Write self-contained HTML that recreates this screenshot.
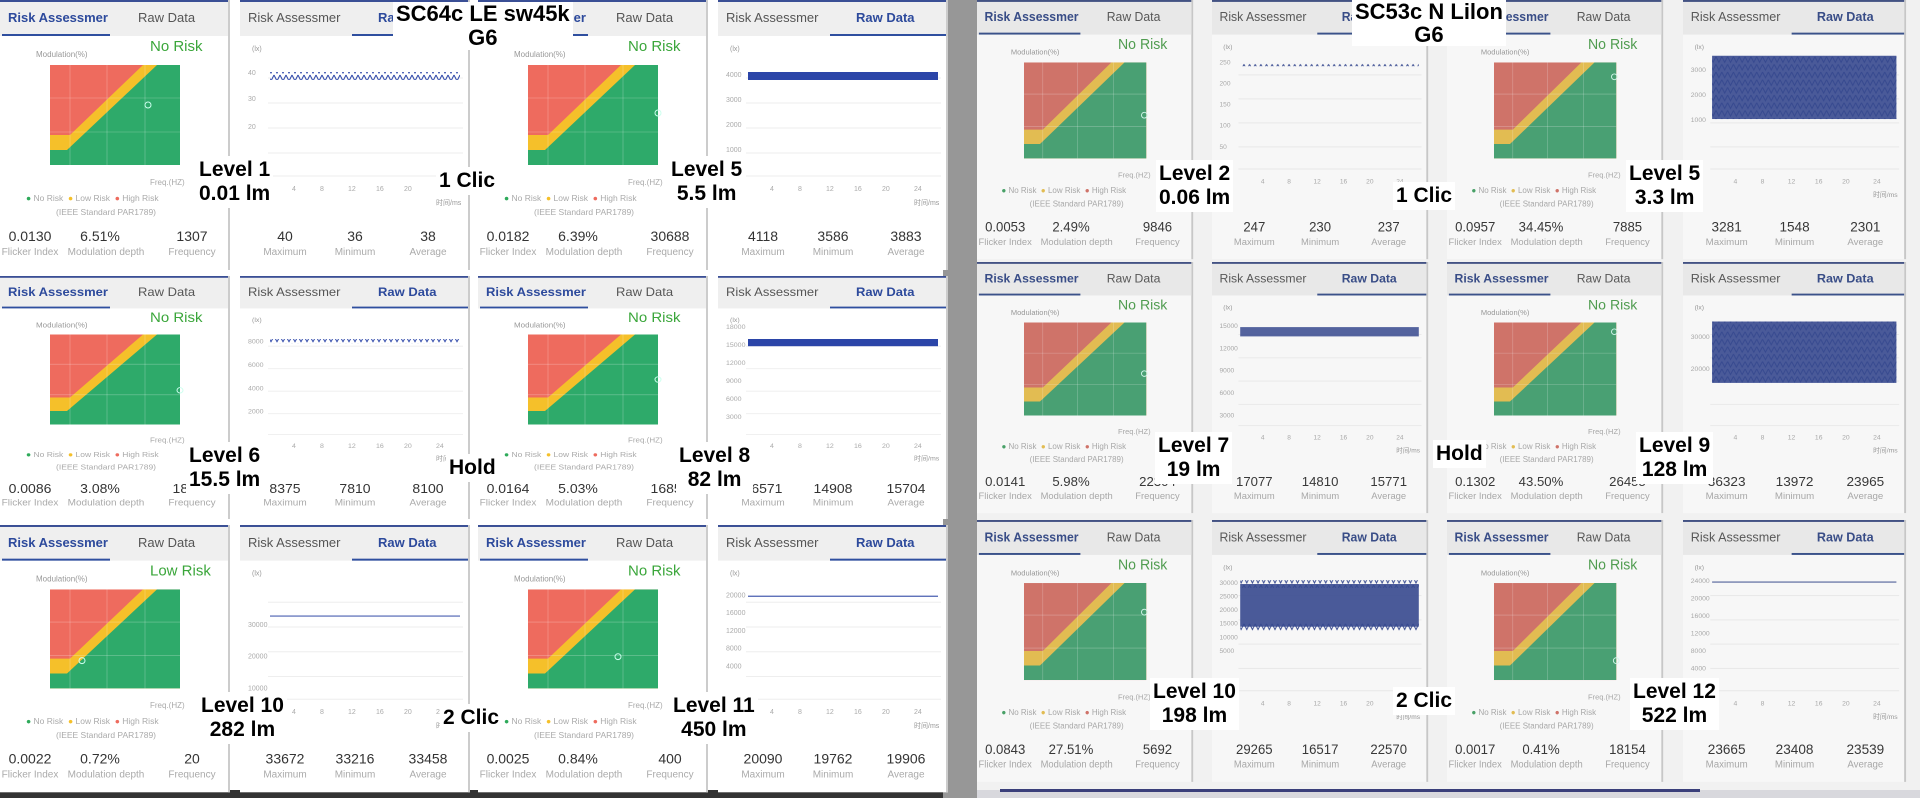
<!DOCTYPE html>
<html><head><meta charset="utf-8">
<style>
*{margin:0;padding:0;box-sizing:border-box}
body{width:1920px;height:798px;overflow:hidden;background:#fff;position:relative;font-family:"Liberation Sans","Noto Sans CJK SC",sans-serif}
.c{position:absolute;width:230px;height:270px;background:#fff;transform-origin:0 0;border-right:2px solid #ccc;overflow:hidden}
.c div,.c span,.c svg{position:absolute}
.tb{left:0;top:0;width:230px;height:36px;background:#efefef;border-top:2px solid #3a4f95}
.t1{left:8px;top:10px;font-size:13px;white-space:nowrap}
.t2{left:138px;top:10px;font-size:13px;white-space:nowrap}
.on{color:#2d4a9c;font-weight:bold}
.off{color:#555}
.ul{top:34px;height:2px;background:#2f4f9f}
.nr{left:150px;top:38px;font-size:15px;color:#3aa63a}
.ml{left:36px;top:50px;font-size:8px;color:#999}
.fq{left:150px;top:178px;font-size:8px;color:#aaa}
.lg{left:26px;top:193px;font-size:8.5px;color:#aaa;white-space:nowrap}
.ie{left:56px;top:207px;font-size:8.5px;color:#aaa;white-space:nowrap}
.v{top:228px;font-size:14px;color:#333;width:80px;text-align:center}
.l{top:247px;font-size:10px;color:#aaa;width:80px;text-align:center;white-space:nowrap}
.lx{left:12px;top:46px;font-size:7px;color:#999}
.yt{left:8px;font-size:7px;color:#aaa}
.xt{top:186px;font-size:7px;color:#aaa}
.tm{left:196px;top:198px;font-size:7px;color:#999}
.ov{position:absolute;background:#fff;font-weight:bold;font-size:21px;line-height:24px;text-align:center;color:#000;white-space:nowrap;padding:2px 3px}
.g{color:#2eaa5a}.y{color:#f5c02a}.r{color:#ee6b5e}
</style></head><body>
<svg width="0" height="0" style="position:absolute"><defs>
<pattern id="zz" width="6" height="8" patternUnits="userSpaceOnUse"><path d="M0,1 L3,7 L6,1" fill="none" stroke="#2b45a8" stroke-width="1"/></pattern>
<g id="rc"><rect width="130" height="100" fill="#ee6b5e"/><polygon points="0,70 20,70 93,0 130,0 130,100 0,100" fill="#f5c02a"/><polygon points="0,85 17,85 107,0 130,0 130,100 0,100" fill="#2eaa6a"/><g stroke="#fff" stroke-opacity=".35" stroke-width=".6"><line x1="20" y1="0" x2="20" y2="100"/><line x1="57" y1="0" x2="57" y2="100"/><line x1="95" y1="0" x2="95" y2="100"/><line x1="0" y1="33" x2="130" y2="33"/><line x1="0" y1="67" x2="130" y2="67"/></g></g>
<g id="gr" stroke="#eee" stroke-width="1"><line x1="0" y1="20" x2="195" y2="20"/><line x1="0" y1="45" x2="195" y2="45"/><line x1="0" y1="70" x2="195" y2="70"/><line x1="0" y1="95" x2="195" y2="95"/><line x1="0" y1="118" x2="195" y2="118"/></g>
</defs></svg>

<div style="position:absolute;left:943px;top:0;width:34px;height:798px;background:#979797"></div>
<div style="position:absolute;left:977px;top:0;width:943px;height:798px;background:#f1f1f1"></div>
<div style="position:absolute;left:0;top:790px;width:943px;height:8px;background:#333"></div>
<div style="position:absolute;left:977px;top:790px;width:943px;height:8px;background:#d8d8dd"></div>
<div style="position:absolute;left:1000px;top:789px;width:700px;height:3px;background:#3a3f7a"></div>

<!-- R1C1 -->
<div class="c" style="left:0;top:0">
<div class="tb"></div><span class="t1 on">Risk Assessmer</span><span class="t2 off">Raw Data</span><div class="ul" style="left:2px;width:108px"></div>
<span class="nr">No Risk</span><span class="ml">Modulation(%)</span>
<svg style="left:50px;top:65px" width="132" height="102"><use href="#rc"/><circle cx="98" cy="40" r="3" fill="none" stroke="#cfe" stroke-width="1"/></svg>
<span class="fq">Freq.(HZ)</span><span class="lg"><b class="g">●</b> No Risk &nbsp;<b class="y">●</b> Low Risk &nbsp;<b class="r">●</b> High Risk</span><span class="ie">(IEEE Standard PAR1789)</span>
<span class="v" style="left:-10px">0.0130</span><span class="v" style="left:60px">6.51%</span><span class="v" style="left:152px">1307</span>
<span class="l" style="left:-10px">Flicker Index</span><span class="l" style="left:66px">Modulation depth</span><span class="l" style="left:152px">Frequency</span>
</div>
<!-- R1C2 -->
<div class="c" style="left:240px;top:0">
<div class="tb"></div><span class="t1 off">Risk Assessmer</span><span class="t2 on">Raw Data</span><div class="ul" style="left:112px;width:118px"></div>
<span class="lx">(lx)</span><span class="yt" style="top:70px">40</span><span class="yt" style="top:96px">30</span><span class="yt" style="top:124px">20</span>
<svg style="left:28px;top:58px" width="195" height="125"><use href="#gr"/><rect x="2" y="14" width="190" height="8" fill="url(#zz)"/></svg>
<span class="xt" style="left:52px">4</span><span class="xt" style="left:80px">8</span><span class="xt" style="left:108px">12</span><span class="xt" style="left:136px">16</span><span class="xt" style="left:164px">20</span><span class="xt" style="left:196px">24</span><span class="tm">时间/ms</span>
<span class="v" style="left:5px">40</span><span class="v" style="left:75px">36</span><span class="v" style="left:148px">38</span>
<span class="l" style="left:5px">Maximum</span><span class="l" style="left:75px">Minimum</span><span class="l" style="left:148px">Average</span>
</div>
<!-- R1C3 -->
<div class="c" style="left:478px;top:0">
<div class="tb"></div><span class="t1 on">Risk Assessmer</span><span class="t2 off">Raw Data</span><div class="ul" style="left:2px;width:108px"></div>
<span class="nr">No Risk</span><span class="ml">Modulation(%)</span>
<svg style="left:50px;top:65px" width="134" height="102"><use href="#rc"/><circle cx="130" cy="48" r="3" fill="none" stroke="#cfe" stroke-width="1"/></svg>
<span class="fq">Freq.(HZ)</span><span class="lg"><b class="g">●</b> No Risk &nbsp;<b class="y">●</b> Low Risk &nbsp;<b class="r">●</b> High Risk</span><span class="ie">(IEEE Standard PAR1789)</span>
<span class="v" style="left:-10px">0.0182</span><span class="v" style="left:60px">6.39%</span><span class="v" style="left:152px">30688</span>
<span class="l" style="left:-10px">Flicker Index</span><span class="l" style="left:66px">Modulation depth</span><span class="l" style="left:152px">Frequency</span>
</div>
<!-- R1C4 -->
<div class="c" style="left:718px;top:0">
<div class="tb"></div><span class="t1 off">Risk Assessmer</span><span class="t2 on">Raw Data</span><div class="ul" style="left:112px;width:118px"></div>
<span class="lx">(lx)</span><span class="yt" style="top:72px">4000</span><span class="yt" style="top:97px">3000</span><span class="yt" style="top:122px">2000</span><span class="yt" style="top:147px">1000</span>
<svg style="left:28px;top:58px" width="195" height="125"><use href="#gr"/><rect x="2" y="14" width="190" height="8" fill="#2b45a8"/></svg>
<span class="xt" style="left:52px">4</span><span class="xt" style="left:80px">8</span><span class="xt" style="left:108px">12</span><span class="xt" style="left:136px">16</span><span class="xt" style="left:164px">20</span><span class="xt" style="left:196px">24</span><span class="tm">时间/ms</span>
<span class="v" style="left:5px">4118</span><span class="v" style="left:75px">3586</span><span class="v" style="left:148px">3883</span>
<span class="l" style="left:5px">Maximum</span><span class="l" style="left:75px">Minimum</span><span class="l" style="left:148px">Average</span>
</div>

<!-- R2C1 -->
<div class="c" style="left:0;top:276px;transform:scaleY(.9)">
<div class="tb"></div><span class="t1 on">Risk Assessmer</span><span class="t2 off">Raw Data</span><div class="ul" style="left:2px;width:108px"></div>
<span class="nr">No Risk</span><span class="ml">Modulation(%)</span>
<svg style="left:50px;top:65px" width="134" height="102"><use href="#rc"/><circle cx="130" cy="62" r="3" fill="none" stroke="#cfe" stroke-width="1"/></svg>
<span class="fq">Freq.(HZ)</span><span class="lg"><b class="g">●</b> No Risk &nbsp;<b class="y">●</b> Low Risk &nbsp;<b class="r">●</b> High Risk</span><span class="ie">(IEEE Standard PAR1789)</span>
<span class="v" style="left:-10px">0.0086</span><span class="v" style="left:60px">3.08%</span><span class="v" style="left:152px">18154</span>
<span class="l" style="left:-10px">Flicker Index</span><span class="l" style="left:66px">Modulation depth</span><span class="l" style="left:152px">Frequency</span>
</div>
<!-- R2C2 -->
<div class="c" style="left:240px;top:276px;transform:scaleY(.9)">
<div class="tb"></div><span class="t1 off">Risk Assessmer</span><span class="t2 on">Raw Data</span><div class="ul" style="left:112px;width:118px"></div>
<span class="lx">(lx)</span><span class="yt" style="top:70px">8000</span><span class="yt" style="top:96px">6000</span><span class="yt" style="top:122px">4000</span><span class="yt" style="top:148px">2000</span>
<svg style="left:28px;top:58px" width="195" height="125"><use href="#gr"/><rect x="2" y="12" width="190" height="5" fill="url(#zz)"/></svg>
<span class="xt" style="left:52px">4</span><span class="xt" style="left:80px">8</span><span class="xt" style="left:108px">12</span><span class="xt" style="left:136px">16</span><span class="xt" style="left:164px">20</span><span class="xt" style="left:196px">24</span><span class="tm">时间/ms</span>
<span class="v" style="left:5px">8375</span><span class="v" style="left:75px">7810</span><span class="v" style="left:148px">8100</span>
<span class="l" style="left:5px">Maximum</span><span class="l" style="left:75px">Minimum</span><span class="l" style="left:148px">Average</span>
</div>
<!-- R2C3 -->
<div class="c" style="left:478px;top:276px;transform:scaleY(.9)">
<div class="tb"></div><span class="t1 on">Risk Assessmer</span><span class="t2 off">Raw Data</span><div class="ul" style="left:2px;width:108px"></div>
<span class="nr">No Risk</span><span class="ml">Modulation(%)</span>
<svg style="left:50px;top:65px" width="134" height="102"><use href="#rc"/><circle cx="130" cy="50" r="3" fill="none" stroke="#cfe" stroke-width="1"/></svg>
<span class="fq">Freq.(HZ)</span><span class="lg"><b class="g">●</b> No Risk &nbsp;<b class="y">●</b> Low Risk &nbsp;<b class="r">●</b> High Risk</span><span class="ie">(IEEE Standard PAR1789)</span>
<span class="v" style="left:-10px">0.0164</span><span class="v" style="left:60px">5.03%</span><span class="v" style="left:152px">16850</span>
<span class="l" style="left:-10px">Flicker Index</span><span class="l" style="left:66px">Modulation depth</span><span class="l" style="left:152px">Frequency</span>
</div>
<!-- R2C4 -->
<div class="c" style="left:718px;top:276px;transform:scaleY(.9)">
<div class="tb"></div><span class="t1 off">Risk Assessmer</span><span class="t2 on">Raw Data</span><div class="ul" style="left:112px;width:118px"></div>
<span class="lx">(lx)</span><span class="yt" style="top:54px">18000</span><span class="yt" style="top:74px">15000</span><span class="yt" style="top:94px">12000</span><span class="yt" style="top:114px">9000</span><span class="yt" style="top:134px">6000</span><span class="yt" style="top:154px">3000</span>
<svg style="left:28px;top:58px" width="195" height="125"><use href="#gr"/><rect x="2" y="12" width="190" height="8" fill="#2b45a8"/></svg>
<span class="xt" style="left:52px">4</span><span class="xt" style="left:80px">8</span><span class="xt" style="left:108px">12</span><span class="xt" style="left:136px">16</span><span class="xt" style="left:164px">20</span><span class="xt" style="left:196px">24</span><span class="tm">时间/ms</span>
<span class="v" style="left:5px">16571</span><span class="v" style="left:75px">14908</span><span class="v" style="left:148px">15704</span>
<span class="l" style="left:5px">Maximum</span><span class="l" style="left:75px">Minimum</span><span class="l" style="left:148px">Average</span>
</div>

<!-- R3C1 -->
<div class="c" style="left:0;top:525px;transform:scaleY(.99)">
<div class="tb"></div><span class="t1 on">Risk Assessmer</span><span class="t2 off">Raw Data</span><div class="ul" style="left:2px;width:108px"></div>
<span class="nr">Low Risk</span><span class="ml">Modulation(%)</span>
<svg style="left:50px;top:65px" width="134" height="102"><use href="#rc"/><circle cx="32" cy="72" r="3" fill="none" stroke="#cfe" stroke-width="1"/></svg>
<span class="fq">Freq.(HZ)</span><span class="lg"><b class="g">●</b> No Risk &nbsp;<b class="y">●</b> Low Risk &nbsp;<b class="r">●</b> High Risk</span><span class="ie">(IEEE Standard PAR1789)</span>
<span class="v" style="left:-10px">0.0022</span><span class="v" style="left:60px">0.72%</span><span class="v" style="left:152px">20</span>
<span class="l" style="left:-10px">Flicker Index</span><span class="l" style="left:66px">Modulation depth</span><span class="l" style="left:152px">Frequency</span>
</div>
<!-- R3C2 -->
<div class="c" style="left:240px;top:525px;transform:scaleY(.99)">
<div class="tb"></div><span class="t1 off">Risk Assessmer</span><span class="t2 on">Raw Data</span><div class="ul" style="left:112px;width:118px"></div>
<span class="lx">(lx)</span><span class="yt" style="top:98px">30000</span><span class="yt" style="top:130px">20000</span><span class="yt" style="top:162px">10000</span>
<svg style="left:28px;top:58px" width="195" height="125"><use href="#gr"/><line x1="2" y1="34" x2="192" y2="34" stroke="#4a5fb0" stroke-width="1.2"/></svg>
<span class="xt" style="left:52px">4</span><span class="xt" style="left:80px">8</span><span class="xt" style="left:108px">12</span><span class="xt" style="left:136px">16</span><span class="xt" style="left:164px">20</span><span class="xt" style="left:196px">24</span><span class="tm">时间/ms</span>
<span class="v" style="left:5px">33672</span><span class="v" style="left:75px">33216</span><span class="v" style="left:148px">33458</span>
<span class="l" style="left:5px">Maximum</span><span class="l" style="left:75px">Minimum</span><span class="l" style="left:148px">Average</span>
</div>
<!-- R3C3 -->
<div class="c" style="left:478px;top:525px;transform:scaleY(.99)">
<div class="tb"></div><span class="t1 on">Risk Assessmer</span><span class="t2 off">Raw Data</span><div class="ul" style="left:2px;width:108px"></div>
<span class="nr">No Risk</span><span class="ml">Modulation(%)</span>
<svg style="left:50px;top:65px" width="134" height="102"><use href="#rc"/><circle cx="90" cy="68" r="3" fill="none" stroke="#cfe" stroke-width="1"/></svg>
<span class="fq">Freq.(HZ)</span><span class="lg"><b class="g">●</b> No Risk &nbsp;<b class="y">●</b> Low Risk &nbsp;<b class="r">●</b> High Risk</span><span class="ie">(IEEE Standard PAR1789)</span>
<span class="v" style="left:-10px">0.0025</span><span class="v" style="left:60px">0.84%</span><span class="v" style="left:152px">400</span>
<span class="l" style="left:-10px">Flicker Index</span><span class="l" style="left:66px">Modulation depth</span><span class="l" style="left:152px">Frequency</span>
</div>
<!-- R3C4 -->
<div class="c" style="left:718px;top:525px;transform:scaleY(.99)">
<div class="tb"></div><span class="t1 off">Risk Assessmer</span><span class="t2 on">Raw Data</span><div class="ul" style="left:112px;width:118px"></div>
<span class="lx">(lx)</span><span class="yt" style="top:68px">20000</span><span class="yt" style="top:86px">16000</span><span class="yt" style="top:104px">12000</span><span class="yt" style="top:122px">8000</span><span class="yt" style="top:140px">4000</span>
<svg style="left:28px;top:58px" width="195" height="125"><use href="#gr"/><line x1="2" y1="14" x2="192" y2="14" stroke="#4a5fb0" stroke-width="1.2"/></svg>
<span class="xt" style="left:52px">4</span><span class="xt" style="left:80px">8</span><span class="xt" style="left:108px">12</span><span class="xt" style="left:136px">16</span><span class="xt" style="left:164px">20</span><span class="xt" style="left:196px">24</span><span class="tm">时间/ms</span>
<span class="v" style="left:5px">20090</span><span class="v" style="left:75px">19762</span><span class="v" style="left:148px">19906</span>
<span class="l" style="left:5px">Maximum</span><span class="l" style="left:75px">Minimum</span><span class="l" style="left:148px">Average</span>
</div>

<div style="position:absolute;left:0;top:0;width:1920px;height:798px;filter:saturate(.75) contrast(.94)">
<!-- R1C1 -->
<div class="c" style="left:977px;top:0;transform:scale(.94,.96)">
<div class="tb"></div><span class="t1 on">Risk Assessmer</span><span class="t2 off">Raw Data</span><div class="ul" style="left:2px;width:108px"></div>
<span class="nr">No Risk</span><span class="ml">Modulation(%)</span>
<svg style="left:50px;top:65px" width="134" height="102"><use href="#rc"/><circle cx="128" cy="55" r="3" fill="none" stroke="#cfe" stroke-width="1"/></svg>
<span class="fq">Freq.(HZ)</span><span class="lg"><b class="g">●</b> No Risk &nbsp;<b class="y">●</b> Low Risk &nbsp;<b class="r">●</b> High Risk</span><span class="ie">(IEEE Standard PAR1789)</span>
<span class="v" style="left:-10px">0.0053</span><span class="v" style="left:60px">2.49%</span><span class="v" style="left:152px">9846</span>
<span class="l" style="left:-10px">Flicker Index</span><span class="l" style="left:66px">Modulation depth</span><span class="l" style="left:152px">Frequency</span>
</div>
<!-- R1C2 -->
<div class="c" style="left:1212px;top:0;transform:scale(.94,.96)">
<div class="tb"></div><span class="t1 off">Risk Assessmer</span><span class="t2 on">Raw Data</span><div class="ul" style="left:112px;width:118px"></div>
<span class="lx">(lx)</span><span class="yt" style="top:62px">250</span><span class="yt" style="top:84px">200</span><span class="yt" style="top:106px">150</span><span class="yt" style="top:128px">100</span><span class="yt" style="top:150px">50</span>
<svg style="left:28px;top:58px" width="195" height="125"><use href="#gr"/><rect x="2" y="8" width="190" height="3" fill="url(#zz)"/></svg>
<span class="xt" style="left:52px">4</span><span class="xt" style="left:80px">8</span><span class="xt" style="left:108px">12</span><span class="xt" style="left:136px">16</span><span class="xt" style="left:164px">20</span><span class="xt" style="left:196px">24</span><span class="tm">时间/ms</span>
<span class="v" style="left:5px">247</span><span class="v" style="left:75px">230</span><span class="v" style="left:148px">237</span>
<span class="l" style="left:5px">Maximum</span><span class="l" style="left:75px">Minimum</span><span class="l" style="left:148px">Average</span>
</div>
<!-- R1C3 -->
<div class="c" style="left:1447px;top:0;transform:scale(.94,.96)">
<div class="tb"></div><span class="t1 on">Risk Assessmer</span><span class="t2 off">Raw Data</span><div class="ul" style="left:2px;width:108px"></div>
<span class="nr">No Risk</span><span class="ml">Modulation(%)</span>
<svg style="left:50px;top:65px" width="134" height="102"><use href="#rc"/><circle cx="128" cy="15" r="3" fill="none" stroke="#cfe" stroke-width="1"/></svg>
<span class="fq">Freq.(HZ)</span><span class="lg"><b class="g">●</b> No Risk &nbsp;<b class="y">●</b> Low Risk &nbsp;<b class="r">●</b> High Risk</span><span class="ie">(IEEE Standard PAR1789)</span>
<span class="v" style="left:-10px">0.0957</span><span class="v" style="left:60px">34.45%</span><span class="v" style="left:152px">7885</span>
<span class="l" style="left:-10px">Flicker Index</span><span class="l" style="left:66px">Modulation depth</span><span class="l" style="left:152px">Frequency</span>
</div>
<!-- R1C4 -->
<div class="c" style="left:1683px;top:0;transform:scale(.97,.96)">
<div class="tb"></div><span class="t1 off">Risk Assessmer</span><span class="t2 on">Raw Data</span><div class="ul" style="left:112px;width:118px"></div>
<span class="lx">(lx)</span><span class="yt" style="top:70px">3000</span><span class="yt" style="top:96px">2000</span><span class="yt" style="top:122px">1000</span>
<svg style="left:28px;top:58px" width="195" height="125"><use href="#gr"/><rect x="2" y="0" width="190" height="66" fill="#2b45a8" fill-opacity=".9"/><rect x="2" y="0" width="190" height="66" fill="url(#zz)"/></svg>
<span class="xt" style="left:52px">4</span><span class="xt" style="left:80px">8</span><span class="xt" style="left:108px">12</span><span class="xt" style="left:136px">16</span><span class="xt" style="left:164px">20</span><span class="xt" style="left:196px">24</span><span class="tm">时间/ms</span>
<span class="v" style="left:5px">3281</span><span class="v" style="left:75px">1548</span><span class="v" style="left:148px">2301</span>
<span class="l" style="left:5px">Maximum</span><span class="l" style="left:75px">Minimum</span><span class="l" style="left:148px">Average</span>
</div>

<!-- R2C1 -->
<div class="c" style="left:977px;top:262px;transform:scale(.94,.93)">
<div class="tb"></div><span class="t1 on">Risk Assessmer</span><span class="t2 off">Raw Data</span><div class="ul" style="left:2px;width:108px"></div>
<span class="nr">No Risk</span><span class="ml">Modulation(%)</span>
<svg style="left:50px;top:65px" width="134" height="102"><use href="#rc"/><circle cx="128" cy="55" r="3" fill="none" stroke="#cfe" stroke-width="1"/></svg>
<span class="fq">Freq.(HZ)</span><span class="lg"><b class="g">●</b> No Risk &nbsp;<b class="y">●</b> Low Risk &nbsp;<b class="r">●</b> High Risk</span><span class="ie">(IEEE Standard PAR1789)</span>
<span class="v" style="left:-10px">0.0141</span><span class="v" style="left:60px">5.98%</span><span class="v" style="left:152px">22304</span>
<span class="l" style="left:-10px">Flicker Index</span><span class="l" style="left:66px">Modulation depth</span><span class="l" style="left:152px">Frequency</span>
</div>
<!-- R2C2 -->
<div class="c" style="left:1212px;top:262px;transform:scale(.94,.93)">
<div class="tb"></div><span class="t1 off">Risk Assessmer</span><span class="t2 on">Raw Data</span><div class="ul" style="left:112px;width:118px"></div>
<span class="lx">(lx)</span><span class="yt" style="top:66px">15000</span><span class="yt" style="top:90px">12000</span><span class="yt" style="top:114px">9000</span><span class="yt" style="top:138px">6000</span><span class="yt" style="top:162px">3000</span>
<svg style="left:28px;top:58px" width="195" height="125"><use href="#gr"/><rect x="2" y="12" width="190" height="10" fill="#2b45a8" fill-opacity=".85"/></svg>
<span class="xt" style="left:52px">4</span><span class="xt" style="left:80px">8</span><span class="xt" style="left:108px">12</span><span class="xt" style="left:136px">16</span><span class="xt" style="left:164px">20</span><span class="xt" style="left:196px">24</span><span class="tm">时间/ms</span>
<span class="v" style="left:5px">17077</span><span class="v" style="left:75px">14810</span><span class="v" style="left:148px">15771</span>
<span class="l" style="left:5px">Maximum</span><span class="l" style="left:75px">Minimum</span><span class="l" style="left:148px">Average</span>
</div>
<!-- R2C3 -->
<div class="c" style="left:1447px;top:262px;transform:scale(.94,.93)">
<div class="tb"></div><span class="t1 on">Risk Assessmer</span><span class="t2 off">Raw Data</span><div class="ul" style="left:2px;width:108px"></div>
<span class="nr">No Risk</span><span class="ml">Modulation(%)</span>
<svg style="left:50px;top:65px" width="134" height="102"><use href="#rc"/><circle cx="128" cy="10" r="3" fill="none" stroke="#cfe" stroke-width="1"/></svg>
<span class="fq">Freq.(HZ)</span><span class="lg"><b class="g">●</b> No Risk &nbsp;<b class="y">●</b> Low Risk &nbsp;<b class="r">●</b> High Risk</span><span class="ie">(IEEE Standard PAR1789)</span>
<span class="v" style="left:-10px">0.1302</span><span class="v" style="left:60px">43.50%</span><span class="v" style="left:152px">26455</span>
<span class="l" style="left:-10px">Flicker Index</span><span class="l" style="left:66px">Modulation depth</span><span class="l" style="left:152px">Frequency</span>
</div>
<!-- R2C4 -->
<div class="c" style="left:1683px;top:262px;transform:scale(.97,.93)">
<div class="tb"></div><span class="t1 off">Risk Assessmer</span><span class="t2 on">Raw Data</span><div class="ul" style="left:112px;width:118px"></div>
<span class="lx">(lx)</span><span class="yt" style="top:78px">30000</span><span class="yt" style="top:112px">20000</span>
<svg style="left:28px;top:58px" width="195" height="125"><use href="#gr"/><rect x="2" y="6" width="190" height="66" fill="#2b45a8" fill-opacity=".9"/><rect x="2" y="6" width="190" height="66" fill="url(#zz)"/></svg>
<span class="xt" style="left:52px">4</span><span class="xt" style="left:80px">8</span><span class="xt" style="left:108px">12</span><span class="xt" style="left:136px">16</span><span class="xt" style="left:164px">20</span><span class="xt" style="left:196px">24</span><span class="tm">时间/ms</span>
<span class="v" style="left:5px">36323</span><span class="v" style="left:75px">13972</span><span class="v" style="left:148px">23965</span>
<span class="l" style="left:5px">Maximum</span><span class="l" style="left:75px">Minimum</span><span class="l" style="left:148px">Average</span>
</div>

<!-- R3C1 -->
<div class="c" style="left:977px;top:520px;transform:scale(.94,.97)">
<div class="tb"></div><span class="t1 on">Risk Assessmer</span><span class="t2 off">Raw Data</span><div class="ul" style="left:2px;width:108px"></div>
<span class="nr">No Risk</span><span class="ml">Modulation(%)</span>
<svg style="left:50px;top:65px" width="134" height="102"><use href="#rc"/><circle cx="128" cy="30" r="3" fill="none" stroke="#cfe" stroke-width="1"/></svg>
<span class="fq">Freq.(HZ)</span><span class="lg"><b class="g">●</b> No Risk &nbsp;<b class="y">●</b> Low Risk &nbsp;<b class="r">●</b> High Risk</span><span class="ie">(IEEE Standard PAR1789)</span>
<span class="v" style="left:-10px">0.0843</span><span class="v" style="left:60px">27.51%</span><span class="v" style="left:152px">5692</span>
<span class="l" style="left:-10px">Flicker Index</span><span class="l" style="left:66px">Modulation depth</span><span class="l" style="left:152px">Frequency</span>
</div>
<!-- R3C2 -->
<div class="c" style="left:1212px;top:520px;transform:scale(.94,.97)">
<div class="tb"></div><span class="t1 off">Risk Assessmer</span><span class="t2 on">Raw Data</span><div class="ul" style="left:112px;width:118px"></div>
<span class="lx">(lx)</span><span class="yt" style="top:62px">30000</span><span class="yt" style="top:76px">25000</span><span class="yt" style="top:90px">20000</span><span class="yt" style="top:104px">15000</span><span class="yt" style="top:118px">10000</span><span class="yt" style="top:132px">5000</span>
<svg style="left:28px;top:58px" width="195" height="125"><use href="#gr"/><rect x="2" y="8" width="190" height="44" fill="#2b45a8" fill-opacity=".9"/><rect x="2" y="4" width="190" height="8" fill="url(#zz)"/><rect x="2" y="48" width="190" height="8" fill="url(#zz)"/></svg>
<span class="xt" style="left:52px">4</span><span class="xt" style="left:80px">8</span><span class="xt" style="left:108px">12</span><span class="xt" style="left:136px">16</span><span class="xt" style="left:164px">20</span><span class="xt" style="left:196px">24</span><span class="tm">时间/ms</span>
<span class="v" style="left:5px">29265</span><span class="v" style="left:75px">16517</span><span class="v" style="left:148px">22570</span>
<span class="l" style="left:5px">Maximum</span><span class="l" style="left:75px">Minimum</span><span class="l" style="left:148px">Average</span>
</div>
<!-- R3C3 -->
<div class="c" style="left:1447px;top:520px;transform:scale(.94,.97)">
<div class="tb"></div><span class="t1 on">Risk Assessmer</span><span class="t2 off">Raw Data</span><div class="ul" style="left:2px;width:108px"></div>
<span class="nr">No Risk</span><span class="ml">Modulation(%)</span>
<svg style="left:50px;top:65px" width="134" height="102"><use href="#rc"/><circle cx="130" cy="80" r="3" fill="none" stroke="#cfe" stroke-width="1"/></svg>
<span class="fq">Freq.(HZ)</span><span class="lg"><b class="g">●</b> No Risk &nbsp;<b class="y">●</b> Low Risk &nbsp;<b class="r">●</b> High Risk</span><span class="ie">(IEEE Standard PAR1789)</span>
<span class="v" style="left:-10px">0.0017</span><span class="v" style="left:60px">0.41%</span><span class="v" style="left:152px">18154</span>
<span class="l" style="left:-10px">Flicker Index</span><span class="l" style="left:66px">Modulation depth</span><span class="l" style="left:152px">Frequency</span>
</div>
<!-- R3C4 -->
<div class="c" style="left:1683px;top:520px;transform:scale(.97,.97)">
<div class="tb"></div><span class="t1 off">Risk Assessmer</span><span class="t2 on">Raw Data</span><div class="ul" style="left:112px;width:118px"></div>
<span class="lx">(lx)</span><span class="yt" style="top:60px">24000</span><span class="yt" style="top:78px">20000</span><span class="yt" style="top:96px">16000</span><span class="yt" style="top:114px">12000</span><span class="yt" style="top:132px">8000</span><span class="yt" style="top:150px">4000</span>
<svg style="left:28px;top:58px" width="195" height="125"><use href="#gr"/><line x1="2" y1="6" x2="192" y2="6" stroke="#4a5fb0" stroke-width="1.2"/></svg>
<span class="xt" style="left:52px">4</span><span class="xt" style="left:80px">8</span><span class="xt" style="left:108px">12</span><span class="xt" style="left:136px">16</span><span class="xt" style="left:164px">20</span><span class="xt" style="left:196px">24</span><span class="tm">时间/ms</span>
<span class="v" style="left:5px">23665</span><span class="v" style="left:75px">23408</span><span class="v" style="left:148px">23539</span>
<span class="l" style="left:5px">Maximum</span><span class="l" style="left:75px">Minimum</span><span class="l" style="left:148px">Average</span>
</div>
</div>

<div class="ov" style="left:393px;top:2px;font-size:22px;line-height:24px;padding:0 3px">SC64c LE sw45k<br>G6</div>
<div class="ov" style="left:196px;top:156px">Level 1<br>0.01 lm</div>
<div class="ov" style="left:436px;top:167px">1 Clic</div>
<div class="ov" style="left:668px;top:156px">Level 5<br>5.5 lm</div>
<div class="ov" style="left:186px;top:442px">Level 6<br>15.5 lm</div>
<div class="ov" style="left:446px;top:454px">Hold</div>
<div class="ov" style="left:676px;top:442px">Level 8<br>82 lm</div>
<div class="ov" style="left:198px;top:692px">Level 10<br>282 lm</div>
<div class="ov" style="left:440px;top:704px">2 Clic</div>
<div class="ov" style="left:670px;top:692px">Level 11<br>450 lm</div>

<div class="ov" style="left:1352px;top:0px;font-size:22px;line-height:23px;padding:0 3px">SC53c N Lilon<br>G6</div>
<div class="ov" style="left:1156px;top:160px">Level 2<br>0.06 lm</div>
<div class="ov" style="left:1393px;top:182px">1 Clic</div>
<div class="ov" style="left:1626px;top:160px">Level 5<br>3.3 lm</div>
<div class="ov" style="left:1155px;top:432px">Level 7<br>19 lm</div>
<div class="ov" style="left:1433px;top:440px">Hold</div>
<div class="ov" style="left:1636px;top:432px">Level 9<br>128 lm</div>
<div class="ov" style="left:1150px;top:678px">Level 10<br>198 lm</div>
<div class="ov" style="left:1393px;top:687px">2 Clic</div>
<div class="ov" style="left:1630px;top:678px">Level 12<br>522 lm</div>
</body></html>
